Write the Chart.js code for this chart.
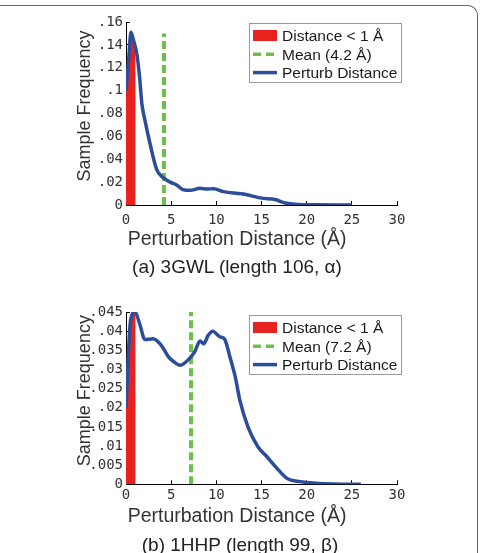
<!DOCTYPE html>
<html>
<head>
<meta charset="utf-8">
<script src="https://cdn.jsdelivr.net/npm/chart.js@4"></script>
<style>
  body { margin: 0; background: #fff; width: 480px; height: 553px; overflow: hidden; position: relative; }
  .frame { position: absolute; left: -10px; top: 5px; width: 488px; height: 600px; box-sizing: border-box;
           border-top: 1px solid #666; border-right: 1px solid #666; border-top-right-radius: 10px; }
  canvas { position: absolute; left: 0; }
  .caption { position: absolute; width: 480px; text-align: center; font: 19px "Liberation Sans", Arial, sans-serif; color: #222; line-height: 20px; }
</style>
</head>
<body>
<div class="frame"></div>
<canvas id="chartA" width="480" height="280" style="top:0"></canvas>
<canvas id="chartB" width="480" height="268" style="top:285px"></canvas>
<div class="caption" style="left:-3px; top:257px">(a) 3GWL (length 106, α)</div>
<div class="caption" style="left:0; top:535px">(b) 1HHP (length 99, β)</div>
<script>
// (a) 3GWL
var distA = [0, 0.3, 0.55, 0.8, 1.2, 1.5, 1.75, 2.1, 2.65, 3.4, 4.1, 4.9, 5.6, 6.3, 7.1, 8.2, 9.0, 9.7, 10.8, 12.8, 13.8, 15.0, 16.5, 17.5, 19.0, 21, 25];
var freqA = [0.100, 0.128, 0.151, 0.145, 0.132, 0.112, 0.089, 0.074, 0.054, 0.031, 0.024, 0.020, 0.0175, 0.0135, 0.0128, 0.0146, 0.014, 0.0142, 0.0117, 0.0098, 0.0082, 0.006, 0.0048, 0.002, 0.0005, 0.0002, 0];
var nearDistA = [0, 0.3, 0.55, 0.8, 1.07];
var nearFreqA = [0.100, 0.128, 0.151, 0.145, 0.136];
var meanA = 4.2, meanTopA = 0.15;
var yTicksA = [0, 0.16, 0.02];   // min, max, step

// (b) 1HHP
var distB = [0, 0.5, 1.0, 1.5, 2.1, 3.0, 3.9, 4.7, 5.3, 6.0, 7.0, 7.6, 8.2, 8.6, 9.1, 9.6, 10.4, 10.9, 11.5, 12.1, 12.6, 13.5, 14.6, 15.6, 16.7, 17.8, 19.3, 21, 23, 26];
var freqB = [0.020, 0.0427, 0.045, 0.042, 0.0378, 0.038, 0.0363, 0.0333, 0.032, 0.0311, 0.0328, 0.0346, 0.0374, 0.0367, 0.0389, 0.040, 0.0385, 0.038, 0.0333, 0.028, 0.022, 0.015, 0.0098, 0.0072, 0.0042, 0.0016, 0.0007, 0.0003, 0.0001, 0];
var nearDistB = [0, 0.5, 1.0, 1.07];
var nearFreqB = [0.020, 0.0427, 0.045, 0.0448];
var meanB = 7.2, meanTopB = 0.045;
var yTicksB = [0, 0.045, 0.005];

var xTicks = [0, 30, 5];

var RED = '#e8231f', GREEN = '#6cbf4a', BLUE = '#2c4d9c';
var MONO = '"DejaVu Sans Mono", monospace';
var SANS = '"Liberation Sans", Arial, sans-serif';

function pts(xs, ys) {
    var out = [];
    for (var i = 0; i < xs.length; i++) out.push({ x: xs[i], y: ys[i] });
    return out;
}

function fmtFreq(v) {
    if (Math.abs(v) < 1e-9) return '0';
    return v.toFixed(3).replace(/0+$/, '').replace(/^0/, '');
}

// legend drawn inside the plot, boxed like the matlab one
var boxLegend = {
    id: 'boxLegend',
    afterDraw: function (chart, args, opts) {
        var ctx = chart.ctx, b = opts.box;
        ctx.save();
        ctx.fillStyle = '#fff';
        ctx.fillRect(b[0], b[1], b[2], b[3]);
        ctx.strokeStyle = '#999';
        ctx.lineWidth = 1;
        ctx.strokeRect(b[0] + 0.5, b[1] + 0.5, b[2], b[3]);
        ctx.font = '15.5px ' + SANS;
        ctx.textBaseline = 'middle';
        var ds = chart.data.datasets;
        for (var i = 0; i < ds.length; i++) {
            var y = b[1] + 13 + i * 18.3;
            var x0 = b[0] + 4;
            if (ds[i].fill) {
                ctx.fillStyle = ds[i].backgroundColor;
                ctx.fillRect(x0, y - 6, 24, 11);
            } else {
                ctx.strokeStyle = ds[i].borderColor;
                ctx.lineWidth = 3.5;
                ctx.setLineDash(ds[i].borderDash ? [8, 5] : []);
                ctx.beginPath();
                ctx.moveTo(x0, y);
                ctx.lineTo(x0 + 24, y);
                ctx.stroke();
                ctx.setLineDash([]);
            }
            ctx.fillStyle = '#1a1a1a';
            ctx.fillText(ds[i].label, b[0] + 33, y + 1);
        }
        ctx.restore();
    }
};

function buildChart(id, s) {
    new Chart(document.getElementById(id), {
        type: 'line',
        data: {
            datasets: [{
                label: 'Distance < 1 Å',
                data: pts(s.nearX, s.nearY),
                fill: 'origin',
                backgroundColor: RED,
                borderWidth: 0,
                pointRadius: 0,
                cubicInterpolationMode: 'monotone',
                order: 3
            }, {
                label: 'Mean (' + s.mean + ' Å)',
                data: [{ x: s.mean, y: 0 }, { x: s.mean, y: s.meanTop }],
                borderColor: GREEN,
                borderWidth: 4,
                borderDash: [8, 4],
                pointRadius: 0,
                fill: false,
                order: 2
            }, {
                label: 'Perturb Distance',
                data: pts(s.x, s.y),
                borderColor: BLUE,
                borderWidth: 3.5,
                pointRadius: 0,
                fill: false,
                cubicInterpolationMode: 'monotone',
                order: 1
            }]
        },
        options: {
            responsive: false,
            animation: false,
            events: [],
            layout: { padding: { left: 74, top: s.top, right: 83, bottom: s.padBottom } },
            plugins: {
                legend: { display: false },
                tooltip: { enabled: false },
                boxLegend: { box: s.legendBox }
            },
            scales: {
                x: {
                    type: 'linear',
                    min: xTicks[0], max: xTicks[1],
                    afterFit: function (sc) { sc.height = s.xHeight; },
                    ticks: { stepSize: xTicks[2], autoSkip: false, maxRotation: 0, padding: s.xLabelPad,
                             color: '#333', font: { family: MONO, size: 14 } },
                    grid: { drawOnChartArea: false, drawTicks: true, tickLength: -4, tickColor: '#000' },
                    border: { color: '#000', width: 1 },
                    title: { display: true, text: 'Perturbation Distance (Å)         ', color: '#333', padding: 0,
                             font: { family: SANS, size: 19.5 } }
                },
                y: {
                    type: 'linear',
                    min: s.yTicks[0], max: s.yTicks[1],
                    afterFit: function (sc) { sc.width = 52; },
                    ticks: { stepSize: s.yTicks[2], autoSkip: false, padding: 7, color: '#333',
                             font: { family: MONO, size: 14 },
                             callback: function (v) { return fmtFreq(v); } },
                    grid: { drawOnChartArea: false, drawTicks: true, tickLength: -4, tickColor: '#000' },
                    border: { color: '#000', width: 1 },
                    title: { display: true, text: '   Sample Frequency', color: '#333', padding: 0,
                             font: { family: SANS, size: 18 } }
                }
            }
        },
        plugins: [boxLegend]
    });
}

buildChart('chartA', {
    x: distA, y: freqA, nearX: nearDistA, nearY: nearFreqA,
    mean: meanA, meanTop: meanTopA, yTicks: yTicksA,
    top: 22, padBottom: 28.6, xHeight: 46.4, xLabelPad: 11.1,
    legendBox: [249, 23, 152, 59]
});

buildChart('chartB', {
    x: distB, y: freqB, nearX: nearDistB, nearY: nearFreqB,
    mean: meanB, meanTop: meanTopB, yTicks: yTicksB,
    top: 27, padBottom: 24.9, xHeight: 43.8, xLabelPad: 6.6,
    legendBox: [249, 30, 152, 59]
});
</script>
</body>
</html>
